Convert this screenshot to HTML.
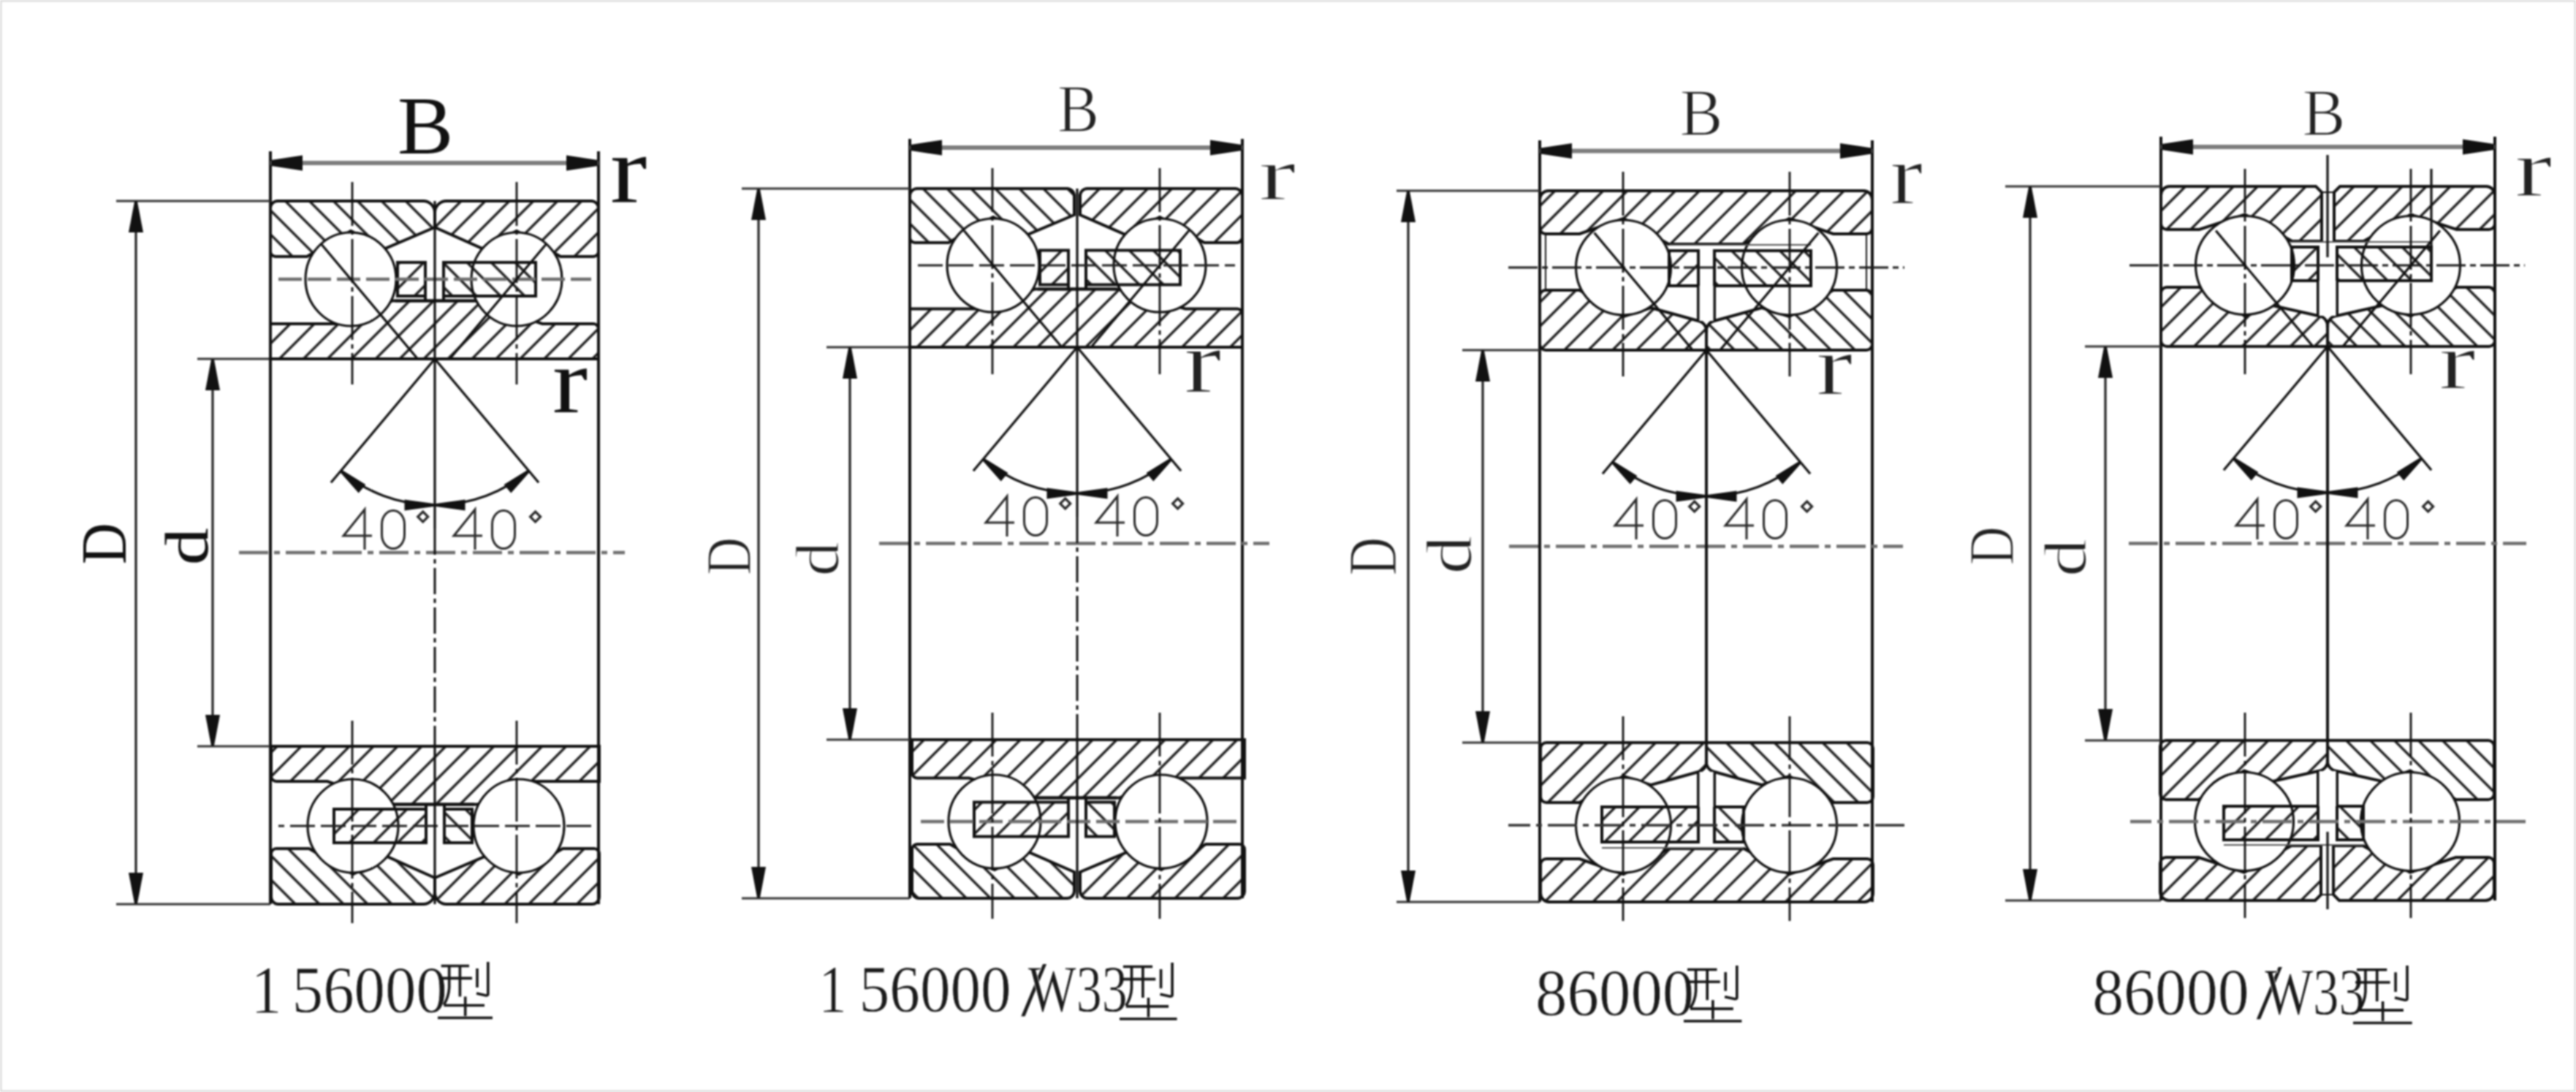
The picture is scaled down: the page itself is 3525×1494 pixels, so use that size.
<!DOCTYPE html><html><head><meta charset="utf-8"><style>html,body{margin:0;padding:0;background:#fff;overflow:hidden}svg{display:block;filter:blur(1.0px)}</style></head><body><svg width="3525" height="1494" viewBox="0 0 3525 1494">
<defs><pattern id="hs" patternUnits="userSpaceOnUse" width="23.3" height="23.3" patternTransform="rotate(45)"><line x1="11.65" y1="-1" x2="11.65" y2="25" stroke="#111" stroke-width="3.2"/></pattern><pattern id="hb" patternUnits="userSpaceOnUse" width="23.3" height="23.3" patternTransform="rotate(-45)"><line x1="11.65" y1="-1" x2="11.65" y2="25" stroke="#111" stroke-width="3.2"/></pattern></defs>
<g>
<rect x="0" y="0" width="3525" height="1494" fill="#fff"/>
<rect x="1.25" y="1.25" width="3522.5" height="1491.5" fill="none" stroke="#dcdcdc" stroke-width="2.5"/>
<line x1="370.0" y1="207.0" x2="370.0" y2="1237.0" stroke="#111" stroke-width="4.0" />
<line x1="819.0" y1="207.0" x2="819.0" y2="1237.0" stroke="#111" stroke-width="4.0" />
<line x1="370.0" y1="223.0" x2="819.0" y2="223.0" stroke="#7d7d7d" stroke-width="6" />
<polygon points="371.0,219.0 414.0,212.5 414.0,233.5 371.0,227.0" fill="#111"/>
<polygon points="818.0,227.0 775.0,233.5 775.0,212.5 818.0,219.0" fill="#111"/>
<line x1="159.0" y1="275.0" x2="370.0" y2="275.0" stroke="#333" stroke-width="3.2" />
<line x1="159.0" y1="1237.0" x2="370.0" y2="1237.0" stroke="#333" stroke-width="3.2" />
<line x1="186.0" y1="275.0" x2="186.0" y2="1237.0" stroke="#222" stroke-width="3.2" />
<polygon points="188.0,276.0 196.0,318.0 176.0,318.0 184.0,276.0" fill="#111"/>
<polygon points="184.0,1236.0 176.0,1194.0 196.0,1194.0 188.0,1236.0" fill="#111"/>
<line x1="270.0" y1="491.0" x2="370.0" y2="491.0" stroke="#333" stroke-width="3.2" />
<line x1="270.0" y1="1021.0" x2="370.0" y2="1021.0" stroke="#333" stroke-width="3.2" />
<line x1="291.0" y1="491.0" x2="291.0" y2="1021.0" stroke="#222" stroke-width="3.2" />
<polygon points="293.0,492.0 301.0,534.0 281.0,534.0 289.0,492.0" fill="#111"/>
<polygon points="289.0,1020.0 281.0,978.0 301.0,978.0 293.0,1020.0" fill="#111"/>
<line x1="327.0" y1="756.0" x2="855.0" y2="756.0" stroke="#6e6e6e" stroke-width="4.5" stroke-dasharray="40 8 8 8"/>
<line x1="595.0" y1="491.0" x2="595.0" y2="723.0" stroke="#111" stroke-width="3.2" />
<line x1="595.0" y1="723.0" x2="595.0" y2="1021.0" stroke="#111" stroke-width="3.0" stroke-dasharray="36 6 6 6"/>
<line x1="595.0" y1="491.0" x2="452.9" y2="660.3" stroke="#111" stroke-width="3.2" />
<line x1="595.0" y1="491.0" x2="737.1" y2="660.3" stroke="#111" stroke-width="3.2" />
<path d="M466.4,644.2 A200,200 0 0 0 723.6,644.2" fill="none" stroke="#111" stroke-width="3.2" />
<polygon points="467.7,642.7 500.4,662.9 490.7,674.4 465.2,645.7" fill="#111"/>
<polygon points="596.5,689.0 636.5,683.5 636.5,698.5 596.5,693.0" fill="#111"/>
<polygon points="724.8,645.7 699.3,674.4 689.6,662.9 722.3,642.7" fill="#111"/>
<polygon points="593.5,693.0 553.5,698.5 553.5,683.5 593.5,689.0" fill="#111"/>
<path d="M499.0,752.0 L499.0,697.0 L470.0,733.0 L509.0,733.0" fill="none" stroke="#2a2a2a" stroke-width="3.0" />
<rect x="522.5" y="698.5" width="31" height="52" rx="15.5" ry="19" fill="none" stroke="#2a2a2a" stroke-width="3.0"/>
<path d="M578.7,700.0 L585.7,707.0 L578.7,714.0 L571.7,707.0 Z" fill="none" stroke="#2a2a2a" stroke-width="3.2" />
<path d="M650.0,752.0 L650.0,697.0 L621.0,733.0 L660.0,733.0" fill="none" stroke="#2a2a2a" stroke-width="3.0" />
<rect x="673.5" y="698.5" width="31" height="52" rx="15.5" ry="19" fill="none" stroke="#2a2a2a" stroke-width="3.0"/>
<path d="M732.6,700.0 L739.6,707.0 L732.6,714.0 L725.6,707.0 Z" fill="none" stroke="#2a2a2a" stroke-width="3.2" />
<line x1="1245.0" y1="190.0" x2="1245.0" y2="1229.0" stroke="#111" stroke-width="4.0" />
<line x1="1700.0" y1="190.0" x2="1700.0" y2="1229.0" stroke="#111" stroke-width="4.0" />
<line x1="1245.0" y1="202.0" x2="1700.0" y2="202.0" stroke="#7d7d7d" stroke-width="6" />
<polygon points="1246.0,198.0 1289.0,191.5 1289.0,212.5 1246.0,206.0" fill="#111"/>
<polygon points="1699.0,206.0 1656.0,212.5 1656.0,191.5 1699.0,198.0" fill="#111"/>
<line x1="1015.0" y1="258.0" x2="1245.0" y2="258.0" stroke="#333" stroke-width="3.2" />
<line x1="1015.0" y1="1229.0" x2="1245.0" y2="1229.0" stroke="#333" stroke-width="3.2" />
<line x1="1038.0" y1="258.0" x2="1038.0" y2="1229.0" stroke="#222" stroke-width="3.2" />
<polygon points="1040.0,259.0 1048.0,301.0 1028.0,301.0 1036.0,259.0" fill="#111"/>
<polygon points="1036.0,1228.0 1028.0,1186.0 1048.0,1186.0 1040.0,1228.0" fill="#111"/>
<line x1="1131.0" y1="475.0" x2="1245.0" y2="475.0" stroke="#333" stroke-width="3.2" />
<line x1="1131.0" y1="1012.0" x2="1245.0" y2="1012.0" stroke="#333" stroke-width="3.2" />
<line x1="1163.0" y1="475.0" x2="1163.0" y2="1012.0" stroke="#222" stroke-width="3.2" />
<polygon points="1165.0,476.0 1173.0,518.0 1153.0,518.0 1161.0,476.0" fill="#111"/>
<polygon points="1161.0,1011.0 1153.0,969.0 1173.0,969.0 1165.0,1011.0" fill="#111"/>
<line x1="1203.0" y1="743.5" x2="1737.0" y2="743.5" stroke="#6e6e6e" stroke-width="4.5" stroke-dasharray="40 8 8 8"/>
<line x1="1474.0" y1="475.0" x2="1474.0" y2="707.0" stroke="#111" stroke-width="3.2" />
<line x1="1474.0" y1="707.0" x2="1474.0" y2="1012.0" stroke="#111" stroke-width="3.0" stroke-dasharray="36 6 6 6"/>
<line x1="1474.0" y1="475.0" x2="1331.9" y2="644.3" stroke="#111" stroke-width="3.2" />
<line x1="1474.0" y1="475.0" x2="1616.1" y2="644.3" stroke="#111" stroke-width="3.2" />
<path d="M1345.4,628.2 A200,200 0 0 0 1602.6,628.2" fill="none" stroke="#111" stroke-width="3.2" />
<polygon points="1346.7,626.7 1379.4,646.9 1369.7,658.4 1344.2,629.7" fill="#111"/>
<polygon points="1475.5,673.0 1515.5,667.5 1515.5,682.5 1475.5,677.0" fill="#111"/>
<polygon points="1603.8,629.7 1578.3,658.4 1568.6,646.9 1601.3,626.7" fill="#111"/>
<polygon points="1472.5,677.0 1432.5,682.5 1432.5,667.5 1472.5,673.0" fill="#111"/>
<path d="M1378.0,734.0 L1378.0,679.0 L1349.0,715.0 L1388.0,715.0" fill="none" stroke="#2a2a2a" stroke-width="3.0" />
<rect x="1401.5" y="680.5" width="31" height="52" rx="15.5" ry="19" fill="none" stroke="#2a2a2a" stroke-width="3.0"/>
<path d="M1457.7,682.0 L1464.7,689.0 L1457.7,696.0 L1450.7,689.0 Z" fill="none" stroke="#2a2a2a" stroke-width="3.2" />
<path d="M1529.0,734.0 L1529.0,679.0 L1500.0,715.0 L1539.0,715.0" fill="none" stroke="#2a2a2a" stroke-width="3.0" />
<rect x="1552.5" y="680.5" width="31" height="52" rx="15.5" ry="19" fill="none" stroke="#2a2a2a" stroke-width="3.0"/>
<path d="M1611.6,682.0 L1618.6,689.0 L1611.6,696.0 L1604.6,689.0 Z" fill="none" stroke="#2a2a2a" stroke-width="3.2" />
<line x1="2107.0" y1="192.0" x2="2107.0" y2="1234.0" stroke="#111" stroke-width="4.0" />
<line x1="2562.0" y1="192.0" x2="2562.0" y2="1234.0" stroke="#111" stroke-width="4.0" />
<line x1="2107.0" y1="206.5" x2="2562.0" y2="206.5" stroke="#7d7d7d" stroke-width="6" />
<polygon points="2108.0,202.5 2151.0,196.0 2151.0,217.0 2108.0,210.5" fill="#111"/>
<polygon points="2561.0,210.5 2518.0,217.0 2518.0,196.0 2561.0,202.5" fill="#111"/>
<line x1="1911.0" y1="261.0" x2="2107.0" y2="261.0" stroke="#333" stroke-width="3.2" />
<line x1="1911.0" y1="1234.0" x2="2107.0" y2="1234.0" stroke="#333" stroke-width="3.2" />
<line x1="1927.0" y1="261.0" x2="1927.0" y2="1234.0" stroke="#222" stroke-width="3.2" />
<polygon points="1929.0,262.0 1937.0,304.0 1917.0,304.0 1925.0,262.0" fill="#111"/>
<polygon points="1925.0,1233.0 1917.0,1191.0 1937.0,1191.0 1929.0,1233.0" fill="#111"/>
<line x1="2001.0" y1="479.0" x2="2107.0" y2="479.0" stroke="#333" stroke-width="3.2" />
<line x1="2001.0" y1="1016.0" x2="2107.0" y2="1016.0" stroke="#333" stroke-width="3.2" />
<line x1="2029.0" y1="479.0" x2="2029.0" y2="1016.0" stroke="#222" stroke-width="3.2" />
<polygon points="2031.0,480.0 2039.0,522.0 2019.0,522.0 2027.0,480.0" fill="#111"/>
<polygon points="2027.0,1015.0 2019.0,973.0 2039.0,973.0 2031.0,1015.0" fill="#111"/>
<line x1="2065.0" y1="747.5" x2="2604.0" y2="747.5" stroke="#6e6e6e" stroke-width="4.5" stroke-dasharray="40 8 8 8"/>
<line x1="2335.0" y1="479.0" x2="2335.0" y2="1016.0" stroke="#111" stroke-width="4.0" />
<line x1="2335.0" y1="479.0" x2="2192.9" y2="648.3" stroke="#111" stroke-width="3.2" />
<line x1="2335.0" y1="479.0" x2="2477.1" y2="648.3" stroke="#111" stroke-width="3.2" />
<path d="M2206.4,632.2 A200,200 0 0 0 2463.6,632.2" fill="none" stroke="#111" stroke-width="3.2" />
<polygon points="2207.7,630.7 2240.4,650.9 2230.7,662.4 2205.2,633.7" fill="#111"/>
<polygon points="2336.5,677.0 2376.5,671.5 2376.5,686.5 2336.5,681.0" fill="#111"/>
<polygon points="2464.8,633.7 2439.3,662.4 2429.6,650.9 2462.3,630.7" fill="#111"/>
<polygon points="2333.5,681.0 2293.5,686.5 2293.5,671.5 2333.5,677.0" fill="#111"/>
<path d="M2239.0,738.0 L2239.0,683.0 L2210.0,719.0 L2249.0,719.0" fill="none" stroke="#2a2a2a" stroke-width="3.0" />
<rect x="2262.5" y="684.5" width="31" height="52" rx="15.5" ry="19" fill="none" stroke="#2a2a2a" stroke-width="3.0"/>
<path d="M2318.7,686.0 L2325.7,693.0 L2318.7,700.0 L2311.7,693.0 Z" fill="none" stroke="#2a2a2a" stroke-width="3.2" />
<path d="M2390.0,738.0 L2390.0,683.0 L2361.0,719.0 L2400.0,719.0" fill="none" stroke="#2a2a2a" stroke-width="3.0" />
<rect x="2413.5" y="684.5" width="31" height="52" rx="15.5" ry="19" fill="none" stroke="#2a2a2a" stroke-width="3.0"/>
<path d="M2472.6,686.0 L2479.6,693.0 L2472.6,700.0 L2465.6,693.0 Z" fill="none" stroke="#2a2a2a" stroke-width="3.2" />
<line x1="2957.0" y1="187.0" x2="2957.0" y2="1232.0" stroke="#111" stroke-width="4.0" />
<line x1="3414.0" y1="187.0" x2="3414.0" y2="1232.0" stroke="#111" stroke-width="4.0" />
<line x1="2957.0" y1="201.0" x2="3414.0" y2="201.0" stroke="#7d7d7d" stroke-width="6" />
<polygon points="2958.0,197.0 3001.0,190.5 3001.0,211.5 2958.0,205.0" fill="#111"/>
<polygon points="3413.0,205.0 3370.0,211.5 3370.0,190.5 3413.0,197.0" fill="#111"/>
<line x1="2744.0" y1="255.0" x2="2957.0" y2="255.0" stroke="#333" stroke-width="3.2" />
<line x1="2744.0" y1="1232.0" x2="2957.0" y2="1232.0" stroke="#333" stroke-width="3.2" />
<line x1="2778.0" y1="255.0" x2="2778.0" y2="1232.0" stroke="#222" stroke-width="3.2" />
<polygon points="2780.0,256.0 2788.0,298.0 2768.0,298.0 2776.0,256.0" fill="#111"/>
<polygon points="2776.0,1231.0 2768.0,1189.0 2788.0,1189.0 2780.0,1231.0" fill="#111"/>
<line x1="2853.0" y1="474.0" x2="2957.0" y2="474.0" stroke="#333" stroke-width="3.2" />
<line x1="2853.0" y1="1013.0" x2="2957.0" y2="1013.0" stroke="#333" stroke-width="3.2" />
<line x1="2881.0" y1="474.0" x2="2881.0" y2="1013.0" stroke="#222" stroke-width="3.2" />
<polygon points="2883.0,475.0 2891.0,517.0 2871.0,517.0 2879.0,475.0" fill="#111"/>
<polygon points="2879.0,1012.0 2871.0,970.0 2891.0,970.0 2883.0,1012.0" fill="#111"/>
<line x1="2913.0" y1="743.5" x2="3457.0" y2="743.5" stroke="#6e6e6e" stroke-width="4.5" stroke-dasharray="40 8 8 8"/>
<line x1="3185.0" y1="474.0" x2="3185.0" y2="1013.0" stroke="#111" stroke-width="4.0" />
<line x1="3185.0" y1="474.0" x2="3042.9" y2="643.3" stroke="#111" stroke-width="3.2" />
<line x1="3185.0" y1="474.0" x2="3327.1" y2="643.3" stroke="#111" stroke-width="3.2" />
<path d="M3056.4,627.2 A200,200 0 0 0 3313.6,627.2" fill="none" stroke="#111" stroke-width="3.2" />
<polygon points="3057.7,625.7 3090.4,645.9 3080.7,657.4 3055.2,628.7" fill="#111"/>
<polygon points="3186.5,672.0 3226.5,666.5 3226.5,681.5 3186.5,676.0" fill="#111"/>
<polygon points="3314.8,628.7 3289.3,657.4 3279.6,645.9 3312.3,625.7" fill="#111"/>
<polygon points="3183.5,676.0 3143.5,681.5 3143.5,666.5 3183.5,672.0" fill="#111"/>
<path d="M3089.0,738.0 L3089.0,683.0 L3060.0,719.0 L3099.0,719.0" fill="none" stroke="#2a2a2a" stroke-width="3.0" />
<rect x="3112.5" y="684.5" width="31" height="52" rx="15.5" ry="19" fill="none" stroke="#2a2a2a" stroke-width="3.0"/>
<path d="M3168.7,686.0 L3175.7,693.0 L3168.7,700.0 L3161.7,693.0 Z" fill="none" stroke="#2a2a2a" stroke-width="3.2" />
<path d="M3240.0,738.0 L3240.0,683.0 L3211.0,719.0 L3250.0,719.0" fill="none" stroke="#2a2a2a" stroke-width="3.0" />
<rect x="3263.5" y="684.5" width="31" height="52" rx="15.5" ry="19" fill="none" stroke="#2a2a2a" stroke-width="3.0"/>
<path d="M3322.6,686.0 L3329.6,693.0 L3322.6,700.0 L3315.6,693.0 Z" fill="none" stroke="#2a2a2a" stroke-width="3.2" />
<path d="M370,285 A10,10 0 0 1 380,275 L579,275 A16,16 0 0 1 595,291 L595,311 L527,340 L480,316 L420,351 L377,351 A7,7 0 0 1 370,344 Z" fill="url(#hb)" stroke="#111" stroke-width="4.0" />
<path d="M595,291 A16,16 0 0 1 611,275 L809,275 A10,10 0 0 1 819,285 L819,344 A7,7 0 0 1 812,351 L767,351 L707,316 L660,340 L595,311 Z" fill="url(#hs)" stroke="#111" stroke-width="4.0" />
<path d="M370,443 L460,443 L537,411.5 L650,411.5 L742,443 L812,443 A7,7 0 0 1 819,450 L819,491 L370,491 Z" fill="url(#hs)" stroke="#111" stroke-width="4.0" />
<ellipse cx="480" cy="382" rx="62" ry="64" fill="#fff" stroke="#111" stroke-width="3.2"/>
<ellipse cx="707" cy="382" rx="62" ry="64" fill="#fff" stroke="#111" stroke-width="3.2"/>
<rect x="544" y="359" width="38" height="46" fill="url(#hs)" stroke="#111" stroke-width="4.0"/>
<rect x="607" y="359" width="126" height="46" fill="url(#hb)" stroke="#111" stroke-width="4.0"/>
<line x1="541.0" y1="411.5" x2="649.0" y2="411.5" stroke="#111" stroke-width="4.0" />
<line x1="582.0" y1="405.0" x2="582.0" y2="411.5" stroke="#111" stroke-width="4.0" />
<line x1="607.0" y1="405.0" x2="607.0" y2="411.5" stroke="#111" stroke-width="4.0" />
<line x1="381.0" y1="382.0" x2="809.0" y2="382.0" stroke="#6e6e6e" stroke-width="4.5" stroke-dasharray="32 8"/>
<line x1="440.1" y1="334.5" x2="571.5" y2="491.0" stroke="#111" stroke-width="3.2" />
<line x1="746.9" y1="334.5" x2="615.5" y2="491.0" stroke="#111" stroke-width="3.2" />
<line x1="595.0" y1="275.0" x2="595.0" y2="491.0" stroke="#111" stroke-width="3.2" />
<g transform="rotate(180 595 756)">
<path d="M370,285 A10,10 0 0 1 380,275 L579,275 A16,16 0 0 1 595,291 L595,311 L527,340 L480,316 L420,351 L377,351 A7,7 0 0 1 370,344 Z" fill="url(#hs)" stroke="#111" stroke-width="4.0" />
<path d="M595,291 A16,16 0 0 1 611,275 L809,275 A10,10 0 0 1 819,285 L819,344 A7,7 0 0 1 812,351 L767,351 L707,316 L660,340 L595,311 Z" fill="url(#hb)" stroke="#111" stroke-width="4.0" />
<path d="M370,443 L460,443 L537,411.5 L650,411.5 L742,443 L812,443 A7,7 0 0 1 819,450 L819,491 L370,491 Z" fill="url(#hs)" stroke="#111" stroke-width="4.0" />
<ellipse cx="480" cy="382" rx="62" ry="64" fill="#fff" stroke="#111" stroke-width="3.2"/>
<ellipse cx="707" cy="382" rx="62" ry="64" fill="#fff" stroke="#111" stroke-width="3.2"/>
<rect x="544" y="359" width="38" height="46" fill="url(#hb)" stroke="#111" stroke-width="4.0"/>
<rect x="607" y="359" width="126" height="46" fill="url(#hs)" stroke="#111" stroke-width="4.0"/>
<line x1="541.0" y1="411.5" x2="649.0" y2="411.5" stroke="#111" stroke-width="4.0" />
<line x1="582.0" y1="405.0" x2="582.0" y2="411.5" stroke="#111" stroke-width="4.0" />
<line x1="607.0" y1="405.0" x2="607.0" y2="411.5" stroke="#111" stroke-width="4.0" />
<line x1="381.0" y1="382.0" x2="809.0" y2="382.0" stroke="#222" stroke-width="3.0" stroke-dasharray="34 8"/>
<line x1="595.0" y1="275.0" x2="595.0" y2="491.0" stroke="#111" stroke-width="3.2" />
</g>
<path d="M1245,268 A10,10 0 0 1 1255,258 L1460,258 A10,10 0 0 1 1470,268 L1470,294 L1406,321 L1359,297 L1298,332 L1252,332 A7,7 0 0 1 1245,325 Z" fill="url(#hb)" stroke="#111" stroke-width="4.0" />
<path d="M1478,268 A10,10 0 0 1 1488,258 L1690,258 A10,10 0 0 1 1700,268 L1700,325 A7,7 0 0 1 1693,332 L1648,332 L1587,297 L1540,321 L1478,294 Z" fill="url(#hs)" stroke="#111" stroke-width="4.0" />
<path d="M1245,422.5 L1339,422.5 L1416,395.5 L1530,395.5 L1622,422.5 L1693,422.5 A7,7 0 0 1 1700,429.5 L1700,475 L1245,475 Z" fill="url(#hs)" stroke="#111" stroke-width="4.0" />
<ellipse cx="1359" cy="363" rx="63" ry="64" fill="#fff" stroke="#111" stroke-width="3.2"/>
<ellipse cx="1587" cy="363" rx="63" ry="64" fill="#fff" stroke="#111" stroke-width="3.2"/>
<rect x="1423" y="342.5" width="39" height="47.0" fill="url(#hs)" stroke="#111" stroke-width="4.0"/>
<rect x="1486" y="342.5" width="129" height="47.0" fill="url(#hb)" stroke="#111" stroke-width="4.0"/>
<line x1="1420.0" y1="395.5" x2="1528.0" y2="395.5" stroke="#111" stroke-width="4.0" />
<line x1="1462.0" y1="389.5" x2="1462.0" y2="395.5" stroke="#111" stroke-width="4.0" />
<line x1="1486.0" y1="389.5" x2="1486.0" y2="395.5" stroke="#111" stroke-width="4.0" />
<line x1="1256.0" y1="363.0" x2="1690.0" y2="363.0" stroke="#222" stroke-width="3.0" stroke-dasharray="34 8"/>
<line x1="1319.1" y1="315.5" x2="1453.0" y2="475.0" stroke="#111" stroke-width="3.2" />
<line x1="1626.9" y1="315.5" x2="1493.0" y2="475.0" stroke="#111" stroke-width="3.2" />
<line x1="1474.0" y1="258.0" x2="1474.0" y2="475.0" stroke="#111" stroke-width="3.2" />
<g transform="rotate(180 1474 743.5)">
<path d="M1245,268 A10,10 0 0 1 1255,258 L1460,258 A10,10 0 0 1 1470,268 L1470,294 L1406,321 L1359,297 L1298,332 L1252,332 A7,7 0 0 1 1245,325 Z" fill="url(#hs)" stroke="#111" stroke-width="4.0" />
<path d="M1478,268 A10,10 0 0 1 1488,258 L1690,258 A10,10 0 0 1 1700,268 L1700,325 A7,7 0 0 1 1693,332 L1648,332 L1587,297 L1540,321 L1478,294 Z" fill="url(#hb)" stroke="#111" stroke-width="4.0" />
<path d="M1245,422.5 L1339,422.5 L1416,395.5 L1530,395.5 L1622,422.5 L1693,422.5 A7,7 0 0 1 1700,429.5 L1700,475 L1245,475 Z" fill="url(#hs)" stroke="#111" stroke-width="4.0" />
<ellipse cx="1359" cy="363" rx="63" ry="64" fill="#fff" stroke="#111" stroke-width="3.2"/>
<ellipse cx="1587" cy="363" rx="63" ry="64" fill="#fff" stroke="#111" stroke-width="3.2"/>
<rect x="1423" y="342.5" width="39" height="47.0" fill="url(#hb)" stroke="#111" stroke-width="4.0"/>
<rect x="1486" y="342.5" width="129" height="47.0" fill="url(#hs)" stroke="#111" stroke-width="4.0"/>
<line x1="1420.0" y1="395.5" x2="1528.0" y2="395.5" stroke="#111" stroke-width="4.0" />
<line x1="1462.0" y1="389.5" x2="1462.0" y2="395.5" stroke="#111" stroke-width="4.0" />
<line x1="1486.0" y1="389.5" x2="1486.0" y2="395.5" stroke="#111" stroke-width="4.0" />
<line x1="1256.0" y1="363.0" x2="1690.0" y2="363.0" stroke="#6e6e6e" stroke-width="4.5" stroke-dasharray="32 8"/>
<line x1="1474.0" y1="258.0" x2="1474.0" y2="475.0" stroke="#111" stroke-width="3.2" />
</g>
<path d="M2107,273 A12,12 0 0 1 2119,261 L2550,261 A12,12 0 0 1 2562,273 L2562,312 A8,8 0 0 1 2554,320 L2508.5,320 L2448.5,299 L2386.5,334 L2283.5,334 L2221.5,299 L2161.5,320 L2115,320 A8,8 0 0 1 2107,312 Z" fill="url(#hs)" stroke="#111" stroke-width="4.0" />
<path d="M2107,405 A8,8 0 0 1 2115,397 L2161.5,397 L2221.5,433 L2259,421 L2324,439 A14,14 0 0 1 2335,455 L2335,479 L2115,479 A8,8 0 0 1 2107,471 Z" fill="url(#hs)" stroke="#111" stroke-width="4.0" />
<path d="M2562,405 A8,8 0 0 0 2554,397 L2508.5,397 L2448.5,433 L2411,421 L2346,439 A14,14 0 0 0 2335,455 L2335,479 L2554,479 A8,8 0 0 0 2562,471 Z" fill="url(#hb)" stroke="#111" stroke-width="4.0" />
<ellipse cx="2221.5" cy="366" rx="65" ry="65" fill="#fff" stroke="#111" stroke-width="3.2"/>
<ellipse cx="2448.5" cy="366" rx="65" ry="65" fill="#fff" stroke="#111" stroke-width="3.2"/>
<rect x="2284" y="343" width="40" height="48" fill="url(#hs)" stroke="#111" stroke-width="4.0"/>
<rect x="2346" y="343" width="132" height="48" fill="url(#hb)" stroke="#111" stroke-width="4.0"/>
<line x1="2324.0" y1="341.0" x2="2324.0" y2="439.0" stroke="#111" stroke-width="4.0" />
<line x1="2346.0" y1="341.0" x2="2346.0" y2="439.0" stroke="#111" stroke-width="4.0" />
<rect x="2325.5" y="391" width="19" height="48" fill="#fff"/>
<line x1="2284.0" y1="335.0" x2="2478.0" y2="335.0" stroke="#555" stroke-width="2.2" />
<line x1="2064.0" y1="366.0" x2="2606.0" y2="366.0" stroke="#1a1a1a" stroke-width="3.0" stroke-dasharray="40 6 8 6"/>
<line x1="2181.6" y1="318.5" x2="2316.3" y2="479.0" stroke="#111" stroke-width="3.2" />
<line x1="2488.4" y1="318.5" x2="2353.7" y2="479.0" stroke="#111" stroke-width="3.2" />
<line x1="2115.0" y1="320.0" x2="2115.0" y2="397.0" stroke="#111" stroke-width="2" />
<line x1="2554.0" y1="320.0" x2="2554.0" y2="397.0" stroke="#111" stroke-width="2" />
<g transform="rotate(180 2335 747.5)">
<path d="M2107,273 A12,12 0 0 1 2119,261 L2550,261 A12,12 0 0 1 2562,273 L2562,312 A8,8 0 0 1 2554,320 L2508.5,320 L2448.5,299 L2386.5,334 L2283.5,334 L2221.5,299 L2161.5,320 L2115,320 A8,8 0 0 1 2107,312 Z" fill="url(#hs)" stroke="#111" stroke-width="4.0" />
<path d="M2107,405 A8,8 0 0 1 2115,397 L2161.5,397 L2221.5,433 L2259,421 L2324,439 A14,14 0 0 1 2335,455 L2335,479 L2115,479 A8,8 0 0 1 2107,471 Z" fill="url(#hb)" stroke="#111" stroke-width="4.0" />
<path d="M2562,405 A8,8 0 0 0 2554,397 L2508.5,397 L2448.5,433 L2411,421 L2346,439 A14,14 0 0 0 2335,455 L2335,479 L2554,479 A8,8 0 0 0 2562,471 Z" fill="url(#hs)" stroke="#111" stroke-width="4.0" />
<ellipse cx="2221.5" cy="366" rx="65" ry="65" fill="#fff" stroke="#111" stroke-width="3.2"/>
<ellipse cx="2448.5" cy="366" rx="65" ry="65" fill="#fff" stroke="#111" stroke-width="3.2"/>
<rect x="2284" y="343" width="40" height="48" fill="url(#hb)" stroke="#111" stroke-width="4.0"/>
<rect x="2346" y="343" width="132" height="48" fill="url(#hs)" stroke="#111" stroke-width="4.0"/>
<line x1="2324.0" y1="341.0" x2="2324.0" y2="439.0" stroke="#111" stroke-width="4.0" />
<line x1="2346.0" y1="341.0" x2="2346.0" y2="439.0" stroke="#111" stroke-width="4.0" />
<rect x="2325.5" y="391" width="19" height="48" fill="#fff"/>
<line x1="2284.0" y1="335.0" x2="2478.0" y2="335.0" stroke="#555" stroke-width="2.2" />
<line x1="2064.0" y1="366.0" x2="2606.0" y2="366.0" stroke="#333" stroke-width="3.6" stroke-dasharray="40 8 8 8"/>
</g>
<path d="M2957,267 A12,12 0 0 1 2969,255 L3169,255 L3177,263 L3177,330 L3136.5,330 L3072,293.5 L3009.5,314 L2965,314 A8,8 0 0 1 2957,306 Z" fill="url(#hs)" stroke="#111" stroke-width="4.0" />
<path d="M3194,263 L3202,255 L3402,255 A12,12 0 0 1 3414,267 L3414,306 A8,8 0 0 1 3406,314 L3361.5,314 L3299,293.5 L3234.5,330 L3194,330 Z" fill="url(#hs)" stroke="#111" stroke-width="4.0" />
<line x1="3177.0" y1="263.0" x2="3194.0" y2="263.0" stroke="#111" stroke-width="2.0" />
<path d="M2957,401 A8,8 0 0 1 2965,393 L3009.5,393 L3072,432.5 L3110,418 L3172,432 A14,14 0 0 1 3185,448 L3185,474 L2965,474 A8,8 0 0 1 2957,466 Z" fill="url(#hs)" stroke="#111" stroke-width="4.0" />
<path d="M3414,401 A8,8 0 0 0 3406,393 L3361.5,393 L3299,432.5 L3260,418 L3198,432 A14,14 0 0 0 3185,448 L3185,474 L3406,474 A8,8 0 0 0 3414,466 Z" fill="url(#hb)" stroke="#111" stroke-width="4.0" />
<ellipse cx="3072" cy="363" rx="67.5" ry="67.5" fill="#fff" stroke="#111" stroke-width="3.2"/>
<ellipse cx="3299" cy="363" rx="67.5" ry="67.5" fill="#fff" stroke="#111" stroke-width="3.2"/>
<rect x="3136" y="338" width="36" height="46" fill="url(#hs)" stroke="#111" stroke-width="4.0"/>
<rect x="3198" y="338" width="129" height="46" fill="url(#hb)" stroke="#111" stroke-width="4.0"/>
<line x1="3172.0" y1="336.0" x2="3172.0" y2="432.0" stroke="#111" stroke-width="4.0" />
<line x1="3198.0" y1="336.0" x2="3198.0" y2="432.0" stroke="#111" stroke-width="4.0" />
<rect x="3173.5" y="384" width="23" height="48" fill="#fff"/>
<line x1="3136.0" y1="331.0" x2="3327.0" y2="331.0" stroke="#555" stroke-width="2.2" />
<line x1="2914.0" y1="363.0" x2="3455.0" y2="363.0" stroke="#1a1a1a" stroke-width="3.0" stroke-dasharray="40 6 8 6"/>
<line x1="3032.1" y1="315.5" x2="3165.1" y2="474.0" stroke="#111" stroke-width="3.2" />
<line x1="3338.9" y1="315.5" x2="3205.9" y2="474.0" stroke="#111" stroke-width="3.2" />
<g transform="rotate(180 3185 743.5)">
<path d="M2957,267 A12,12 0 0 1 2969,255 L3169,255 L3177,263 L3177,330 L3136.5,330 L3072,293.5 L3009.5,314 L2965,314 A8,8 0 0 1 2957,306 Z" fill="url(#hs)" stroke="#111" stroke-width="4.0" />
<path d="M3194,263 L3202,255 L3402,255 A12,12 0 0 1 3414,267 L3414,306 A8,8 0 0 1 3406,314 L3361.5,314 L3299,293.5 L3234.5,330 L3194,330 Z" fill="url(#hs)" stroke="#111" stroke-width="4.0" />
<line x1="3177.0" y1="263.0" x2="3194.0" y2="263.0" stroke="#111" stroke-width="2.0" />
<path d="M2957,401 A8,8 0 0 1 2965,393 L3009.5,393 L3072,432.5 L3110,418 L3172,432 A14,14 0 0 1 3185,448 L3185,474 L2965,474 A8,8 0 0 1 2957,466 Z" fill="url(#hb)" stroke="#111" stroke-width="4.0" />
<path d="M3414,401 A8,8 0 0 0 3406,393 L3361.5,393 L3299,432.5 L3260,418 L3198,432 A14,14 0 0 0 3185,448 L3185,474 L3406,474 A8,8 0 0 0 3414,466 Z" fill="url(#hs)" stroke="#111" stroke-width="4.0" />
<ellipse cx="3072" cy="363" rx="67.5" ry="67.5" fill="#fff" stroke="#111" stroke-width="3.2"/>
<ellipse cx="3299" cy="363" rx="67.5" ry="67.5" fill="#fff" stroke="#111" stroke-width="3.2"/>
<rect x="3136" y="338" width="36" height="46" fill="url(#hb)" stroke="#111" stroke-width="4.0"/>
<rect x="3198" y="338" width="129" height="46" fill="url(#hs)" stroke="#111" stroke-width="4.0"/>
<line x1="3172.0" y1="336.0" x2="3172.0" y2="432.0" stroke="#111" stroke-width="4.0" />
<line x1="3198.0" y1="336.0" x2="3198.0" y2="432.0" stroke="#111" stroke-width="4.0" />
<rect x="3173.5" y="384" width="23" height="48" fill="#fff"/>
<line x1="3136.0" y1="331.0" x2="3327.0" y2="331.0" stroke="#555" stroke-width="2.2" />
<line x1="2914.0" y1="363.0" x2="3455.0" y2="363.0" stroke="#6e6e6e" stroke-width="4.5" stroke-dasharray="40 8 8 8"/>
</g>
<line x1="482.0" y1="249.0" x2="482.0" y2="526.0" stroke="#111" stroke-width="2.8" stroke-dasharray="60 6 6 6"/>
<line x1="482.0" y1="986.0" x2="482.0" y2="1263.0" stroke="#111" stroke-width="2.8" stroke-dasharray="60 6 6 6"/>
<line x1="707.0" y1="249.0" x2="707.0" y2="526.0" stroke="#111" stroke-width="2.8" stroke-dasharray="60 6 6 6"/>
<line x1="707.0" y1="986.0" x2="707.0" y2="1263.0" stroke="#111" stroke-width="2.8" stroke-dasharray="60 6 6 6"/>
<line x1="1358.0" y1="230.0" x2="1358.0" y2="512.0" stroke="#111" stroke-width="2.8" stroke-dasharray="60 6 6 6"/>
<line x1="1358.0" y1="975.0" x2="1358.0" y2="1257.0" stroke="#111" stroke-width="2.8" stroke-dasharray="60 6 6 6"/>
<line x1="1587.0" y1="230.0" x2="1587.0" y2="512.0" stroke="#111" stroke-width="2.8" stroke-dasharray="60 6 6 6"/>
<line x1="1587.0" y1="975.0" x2="1587.0" y2="1257.0" stroke="#111" stroke-width="2.8" stroke-dasharray="60 6 6 6"/>
<line x1="2221.0" y1="235.0" x2="2221.0" y2="515.0" stroke="#111" stroke-width="2.8" stroke-dasharray="60 6 6 6"/>
<line x1="2221.0" y1="980.0" x2="2221.0" y2="1260.0" stroke="#111" stroke-width="2.8" stroke-dasharray="60 6 6 6"/>
<line x1="2449.0" y1="235.0" x2="2449.0" y2="515.0" stroke="#111" stroke-width="2.8" stroke-dasharray="60 6 6 6"/>
<line x1="2449.0" y1="980.0" x2="2449.0" y2="1260.0" stroke="#111" stroke-width="2.8" stroke-dasharray="60 6 6 6"/>
<line x1="3072.0" y1="231.0" x2="3072.0" y2="512.0" stroke="#111" stroke-width="2.8" stroke-dasharray="60 6 6 6"/>
<line x1="3072.0" y1="975.0" x2="3072.0" y2="1256.0" stroke="#111" stroke-width="2.8" stroke-dasharray="60 6 6 6"/>
<line x1="3299.0" y1="231.0" x2="3299.0" y2="512.0" stroke="#111" stroke-width="2.8" stroke-dasharray="60 6 6 6"/>
<line x1="3299.0" y1="975.0" x2="3299.0" y2="1256.0" stroke="#111" stroke-width="2.8" stroke-dasharray="60 6 6 6"/>
<line x1="3327.0" y1="231.0" x2="3327.0" y2="338.0" stroke="#111" stroke-width="3.2" />
<line x1="3185.0" y1="212.0" x2="3185.0" y2="352.0" stroke="#111" stroke-width="3.2" />
<line x1="3185.0" y1="1138.0" x2="3185.0" y2="1244.0" stroke="#111" stroke-width="3.2" />
<text x="0" y="0" font-family="Liberation Serif" font-size="111.40" fill="#111" transform="translate(543.98,210.27) scale(1.0288,1)">B</text>
<text x="0" y="0" font-family="Liberation Serif" font-size="131.21" fill="#111" transform="translate(834.97,277.30) scale(1.1532,1)">r</text>
<text x="0" y="0" font-family="Liberation Serif" font-size="127.39" fill="#111" transform="translate(756.11,564.00) scale(1.1362,1)">r</text>
<text x="0" y="0" font-family="Liberation Serif" font-size="89.65" fill="#111" transform="translate(172.22,771.97) rotate(-90) scale(0.8746,1)">D</text>
<text x="0" y="0" font-family="Liberation Serif" font-size="83.81" fill="#111" transform="translate(283.76,773.37) rotate(-90) scale(1.2170,1)">d</text>
<text x="0" y="0" font-family="Liberation Serif" font-size="92.42" fill="#1a1a1a" stroke="#fff" stroke-width="0.8" transform="translate(343.43,1386.00) scale(0.9068,1)">1</text>
<text x="0" y="0" font-family="Liberation Serif" font-size="90.37" fill="#1a1a1a" stroke="#fff" stroke-width="0.8" transform="translate(399.78,1385.10) scale(0.9390,1)">56000</text>
<path d="M603.7,1321.5 L642.0,1321.5 M602.0,1338.4 L646.0,1338.4 M614.7,1323.0 L614.7,1351.0 Q614.0,1364.0 607.4,1374.6 M629.4,1323.0 L629.4,1363.6 M653.0,1325.0 L653.0,1351.0 M667.8,1316.0 L667.8,1360.0 Q667.8,1362.0 665.0,1362.0 L652.0,1359.0 M607.4,1375.5 L663.0,1375.5 M636.7,1363.6 L636.7,1390.0 M599.0,1392.5 L674.0,1392.5" fill="none" stroke="#151515" stroke-width="3.6" />
<text x="0" y="0" font-family="Liberation Serif" font-size="92.10" fill="#222" stroke="#fff" stroke-width="1.5" transform="translate(1447.02,180.32) scale(0.9273,1)">B</text>
<text x="0" y="0" font-family="Liberation Serif" font-size="102.97" fill="#222" stroke="#fff" stroke-width="1.5" transform="translate(1721.91,273.00) scale(1.5014,1)">r</text>
<text x="0" y="0" font-family="Liberation Serif" font-size="123.14" fill="#222" stroke="#fff" stroke-width="1.5" transform="translate(1619.91,537.00) scale(1.2555,1)">r</text>
<text x="0" y="0" font-family="Liberation Serif" font-size="89.80" fill="#222" stroke="#fff" stroke-width="1.5" transform="translate(1026.82,787.09) rotate(-90) scale(0.8015,1)">D</text>
<text x="0" y="0" font-family="Liberation Serif" font-size="83.81" fill="#222" stroke="#fff" stroke-width="1.5" transform="translate(1147.16,788.42) rotate(-90) scale(1.1351,1)">d</text>
<text x="0" y="0" font-family="Liberation Serif" font-size="92.42" fill="#1a1a1a" stroke="#fff" stroke-width="0.8" transform="translate(1120.25,1385.00) scale(0.8299,1)">1</text>
<text x="0" y="0" font-family="Liberation Serif" font-size="90.37" fill="#1a1a1a" stroke="#fff" stroke-width="0.8" transform="translate(1175.78,1384.10) scale(0.9201,1)">56000</text>
<text x="0" y="0" font-family="Liberation Serif" font-size="107.62" fill="#1a1a1a" stroke="#fff" stroke-width="0.8" transform="translate(1396.60,1389.92) scale(1.2166,1)">/</text>
<text x="0" y="0" font-family="Liberation Serif" font-size="90.10" fill="#1a1a1a" stroke="#fff" stroke-width="0.8" transform="translate(1406.63,1383.65) scale(0.7770,1)">W33</text>
<path d="M1536.9,1322.5 L1577.1,1322.5 M1535.1,1339.6 L1581.3,1339.6 M1548.5,1324.1 L1548.5,1352.2 Q1547.7,1365.3 1540.8,1376.0 M1563.9,1324.1 L1563.9,1364.9 M1588.6,1326.1 L1588.6,1352.2 M1604.1,1317.0 L1604.1,1361.3 Q1604.1,1363.3 1601.2,1363.3 L1587.5,1360.3 M1540.8,1376.9 L1599.1,1376.9 M1571.5,1364.9 L1571.5,1391.5 M1532.0,1394.0 L1610.6,1394.0" fill="none" stroke="#151515" stroke-width="3.6" />
<text x="0" y="0" font-family="Liberation Serif" font-size="91.19" fill="#222" stroke="#fff" stroke-width="1.5" transform="translate(2298.44,184.73) scale(0.9682,1)">B</text>
<text x="0" y="0" font-family="Liberation Serif" font-size="116.77" fill="#222" stroke="#fff" stroke-width="1.5" transform="translate(2586.30,279.00) scale(1.1550,1)">r</text>
<text x="0" y="0" font-family="Liberation Serif" font-size="116.77" fill="#222" stroke="#fff" stroke-width="1.5" transform="translate(2484.97,540.00) scale(1.2958,1)">r</text>
<text x="0" y="0" font-family="Liberation Serif" font-size="95.28" fill="#222" stroke="#fff" stroke-width="1.5" transform="translate(1911.41,787.61) rotate(-90) scale(0.7634,1)">D</text>
<text x="0" y="0" font-family="Liberation Serif" font-size="88.07" fill="#222" stroke="#fff" stroke-width="1.5" transform="translate(2013.12,785.82) rotate(-90) scale(1.2058,1)">d</text>
<text x="0" y="0" font-family="Liberation Serif" font-size="91.26" fill="#1a1a1a" stroke="#fff" stroke-width="0.8" transform="translate(2101.10,1388.69) scale(0.9520,1)">86000</text>
<path d="M2309.0,1326.5 L2349.5,1326.5 M2307.2,1343.2 L2353.8,1343.2 M2320.6,1327.9 L2320.6,1355.8 Q2319.9,1368.7 2312.9,1379.2 M2336.2,1327.9 L2336.2,1368.3 M2361.2,1329.9 L2361.2,1355.8 M2376.8,1321.0 L2376.8,1364.7 Q2376.8,1366.7 2373.9,1366.7 L2360.1,1363.7 M2312.9,1380.1 L2371.8,1380.1 M2343.9,1368.3 L2343.9,1394.5 M2304.0,1397.0 L2383.4,1397.0" fill="none" stroke="#151515" stroke-width="3.6" />
<text x="0" y="0" font-family="Liberation Serif" font-size="91.19" fill="#222" stroke="#fff" stroke-width="1.5" transform="translate(3150.44,184.73) scale(0.9682,1)">B</text>
<text x="0" y="0" font-family="Liberation Serif" font-size="112.53" fill="#222" stroke="#fff" stroke-width="1.5" transform="translate(3440.91,268.00) scale(1.3739,1)">r</text>
<text x="0" y="0" font-family="Liberation Serif" font-size="110.40" fill="#222" stroke="#fff" stroke-width="1.5" transform="translate(3336.94,531.00) scale(1.3855,1)">r</text>
<text x="0" y="0" font-family="Liberation Serif" font-size="89.19" fill="#222" stroke="#fff" stroke-width="1.5" transform="translate(2755.42,773.13) rotate(-90) scale(0.8241,1)">D</text>
<text x="0" y="0" font-family="Liberation Serif" font-size="83.10" fill="#222" stroke="#fff" stroke-width="1.5" transform="translate(2853.67,789.28) rotate(-90) scale(1.2647,1)">d</text>
<text x="0" y="0" font-family="Liberation Serif" font-size="91.85" fill="#1a1a1a" stroke="#fff" stroke-width="0.8" transform="translate(2863.14,1388.08) scale(0.9347,1)">86000</text>
<text x="0" y="0" font-family="Liberation Serif" font-size="107.92" fill="#1a1a1a" stroke="#fff" stroke-width="0.8" transform="translate(3087.00,1393.92) scale(1.2232,1)">/</text>
<text x="0" y="0" font-family="Liberation Serif" font-size="91.58" fill="#1a1a1a" stroke="#fff" stroke-width="0.8" transform="translate(3098.93,1387.63) scale(0.7685,1)">W33</text>
<path d="M3225.1,1326.7 L3266.3,1326.7 M3223.2,1344.0 L3270.6,1344.0 M3236.9,1328.2 L3236.9,1356.9 Q3236.1,1370.3 3229.0,1381.1 M3252.7,1328.2 L3252.7,1369.9 M3278.1,1330.3 L3278.1,1356.9 M3294.0,1321.1 L3294.0,1366.2 Q3294.0,1368.2 3291.0,1368.2 L3277.0,1365.1 M3229.0,1382.1 L3288.9,1382.1 M3260.6,1369.9 L3260.6,1396.9 M3220.0,1399.5 L3300.7,1399.5" fill="none" stroke="#151515" stroke-width="3.6" />
</g></svg></body></html>
